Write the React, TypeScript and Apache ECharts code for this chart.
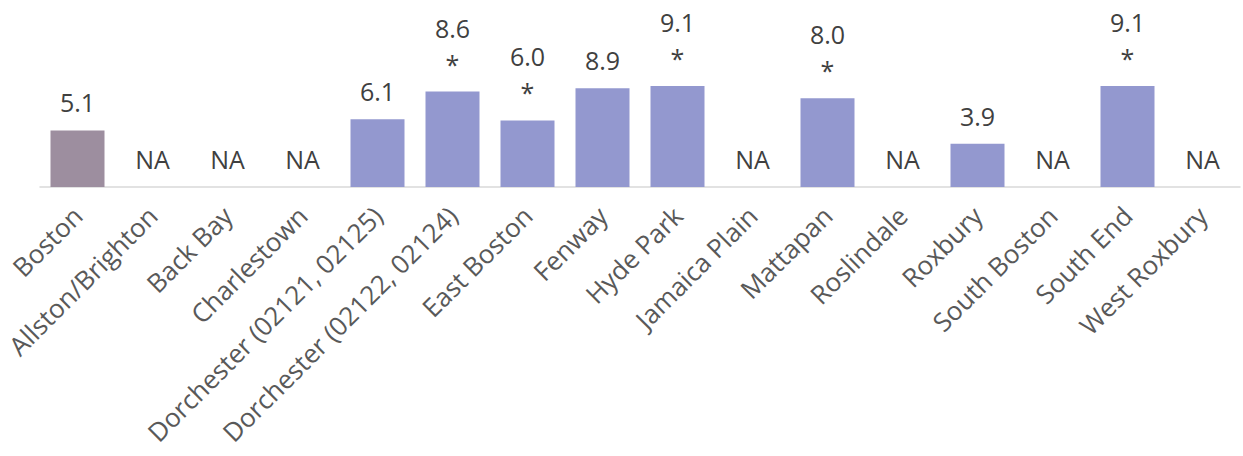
import React, { useEffect, useRef } from "react";
import * as echarts from "echarts";

const categories = [
  "Boston",
  "Allston/Brighton",
  "Back Bay",
  "Charlestown",
  "Dorchester (02121, 02125)",
  "Dorchester (02122, 02124)",
  "East Boston",
  "Fenway",
  "Hyde Park",
  "Jamaica Plain",
  "Mattapan",
  "Roslindale",
  "Roxbury",
  "South Boston",
  "South End",
  "West Roxbury",
];
const values: (number | null)[] = [5.1, null, null, null, 6.1, 8.6, 6.0, 8.9, 9.1, null, 8.0, null, 3.9, null, 9.1, null];
const flagged = [false, false, false, false, false, true, true, false, true, false, true, false, false, false, true, false];

const BOSTON_COLOR = "#9d8e9f";
const BAR_COLOR = "#9398cf";

export default function App() {
  const ref = useRef<HTMLDivElement>(null);
  useEffect(() => {
    if (!ref.current) return;
    const chart = echarts.init(ref.current, undefined, { renderer: "svg" });
    const data = values.map((v, i) => ({
      value: v === null ? 0 : v,
      itemStyle: { color: i === 0 ? BOSTON_COLOR : BAR_COLOR },
      label: {
        formatter: v === null ? "NA" : v.toFixed(1) + (flagged[i] ? "\n*" : ""),
      },
    }));
    chart.setOption({
      animation: false,
      grid: { left: 40, right: 3, top: 76, bottom: 269, containLabel: false },
      xAxis: {
        type: "category",
        data: categories,
        axisLine: { show: true, lineStyle: { color: "#d9d9d9", width: 1.5 } },
        axisTick: { show: false },
        axisLabel: {
          interval: 0,
          rotate: 45,
          fontFamily: "Open Sans",
          fontSize: 26,
          color: "#595959",
          margin: 24,
        },
      },
      yAxis: {
        type: "value",
        min: 0,
        max: 10,
        show: false,
        splitLine: { show: false },
      },
      series: [
        {
          type: "bar",
          data,
          barWidth: 54,
          label: {
            show: true,
            position: "top",
            distance: 10,
            fontFamily: "Open Sans",
            fontSize: 25,
            lineHeight: 36,
            color: "#404040",
          },
        },
      ],
    });
    return () => chart.dispose();
  }, []);
  return (
    <div
      ref={ref}
      style={{ position: "fixed", left: 0, top: 0, width: 1243, height: 456, background: "#fff" }}
    />
  );
}
